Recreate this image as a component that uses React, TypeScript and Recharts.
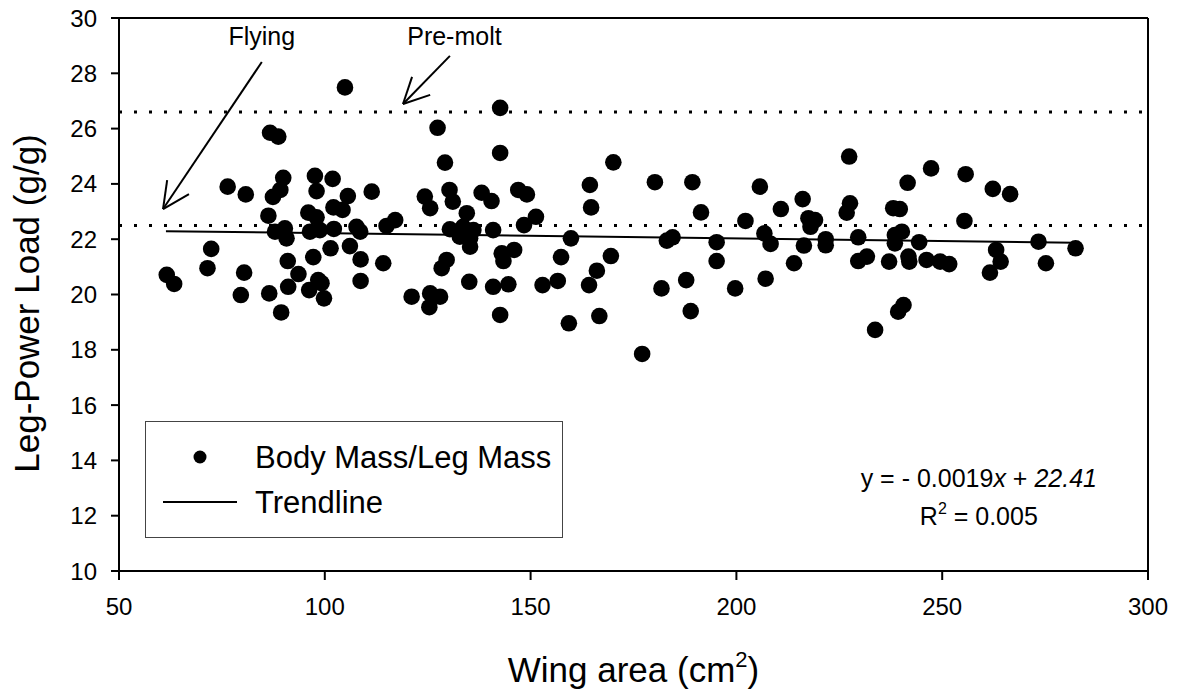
import React from "react";
import {
  ScatterChart,
  Scatter,
  XAxis,
  YAxis,
  ReferenceLine,
  ReferenceDot,
  Legend,
} from "recharts";

const FONT = "'Liberation Sans', Arial, Helvetica, sans-serif";

// wing area (cm2) and leg-power load (g/g), one entry per bird
const wingArea = [
  61.6, 63.4, 71.5, 72.4, 76.4, 79.6, 80.4, 80.8,
  86.3, 86.5, 86.7, 88.7, 87.4, 89.2, 89.9, 87.9, 90.3, 90.7, 89.4, 91.0, 91.1, 93.6,
  96.0, 96.2, 96.4, 97.2, 97.6, 98.0, 98.0, 98.4, 98.8, 99.2, 99.8,
  101.4, 101.9, 102.1, 102.2, 104.3, 104.9, 105.6, 106.1, 107.7, 108.6, 108.7, 108.7, 111.4, 114.2, 115.0, 117.1,
  121.1, 124.3, 125.6, 125.6, 125.4, 127.4, 128.0, 128.4, 129.2, 129.6, 130.3, 130.4, 131.1, 132.8, 133.6, 134.5, 134.5, 135.3, 136.1, 135.1, 135.3,
  138.1, 140.5, 140.9, 140.9, 142.6, 142.6, 142.6, 143.0, 143.4, 144.6, 146.0, 147.0, 148.4, 149.1, 151.3, 152.9, 156.6, 157.4, 159.3, 159.8,
  164.2, 164.4, 164.7, 166.1, 166.7, 169.5, 170.1, 177.1, 180.2, 181.8, 183.1, 184.5, 187.8, 188.9, 189.3, 191.4, 195.2, 195.2, 199.7,
  202.2, 205.7, 206.8, 207.1, 208.3, 210.8, 214.0, 216.1, 216.4, 217.5, 218.0, 219.1, 221.7, 221.7, 226.8, 227.4, 227.6, 229.6, 229.6, 231.7, 233.7,
  237.1, 238.1, 239.7, 238.5, 240.2, 238.5, 239.3, 240.6, 241.6, 241.8, 242.0, 244.4, 246.2, 247.3, 249.5, 251.7, 255.4, 255.7,
  261.6, 262.3, 263.1, 264.2, 266.5, 273.4, 275.2, 282.4,
];
const legPowerLoad = [
  20.71, 20.38, 20.95, 21.65, 23.9, 19.98, 20.79, 23.62,
  22.85, 20.04, 25.85, 25.71, 23.53, 23.78, 24.22, 22.27, 22.39, 22.03, 19.35, 21.21, 20.28, 20.74,
  22.96, 20.16, 22.27, 21.35, 24.29, 23.74, 22.79, 20.52, 22.33, 20.41, 19.86,
  21.67, 24.18, 23.15, 22.37, 23.06, 27.49, 23.56, 21.75, 22.45, 22.27, 21.27, 20.49, 23.72, 21.13, 22.48, 22.69,
  19.92, 23.54, 23.12, 20.04, 19.54, 26.03, 19.92, 20.95, 24.77, 21.25, 23.78, 22.36, 23.36, 22.09, 22.45, 22.94, 22.21, 21.73, 22.33, 20.46, 22.03,
  23.68, 23.38, 22.33, 20.28, 26.75, 25.12, 19.26, 21.49, 21.21, 20.37, 21.61, 23.78, 22.51, 23.62, 22.81, 20.34, 20.49, 21.35, 18.96, 22.03,
  20.34, 23.96, 23.15, 20.86, 19.22, 21.39, 24.78, 17.85, 24.06, 20.22, 21.95, 22.07, 20.52, 19.4, 24.06, 22.97, 21.89, 21.21, 20.22,
  22.66, 23.9, 22.21, 20.57, 21.83, 23.09, 21.13, 23.45, 21.77, 22.76, 22.45, 22.69, 22.0, 21.78, 22.96, 24.99, 23.3, 22.07, 21.21, 21.37, 18.72,
  21.19, 23.12, 23.09, 22.15, 22.27, 21.85, 19.38, 19.62, 24.04, 21.37, 21.19, 21.89, 21.25, 24.56, 21.19, 21.1, 22.66, 24.35,
  20.79, 23.82, 21.61, 21.19, 23.63, 21.91, 21.13, 21.67,
];

// trendline end points
const trendWing = [61.4, 282.4];
const trendLoad = [22.29, 21.87];

const xTicks = [50, 100, 150, 200, 250, 300];
const yTicks = [10, 12, 14, 16, 18, 20, 22, 24, 26, 28, 30];
const cutoffLines = [26.6, 22.5];

const points = wingArea.map((x, i) => ({ x, y: legPowerLoad[i] }));
const trend = trendWing.map((x, i) => ({ x, y: trendLoad[i] }));

// annotation arrows: [x1, y1, x2, y2] in data units
const arrows = [
  [84.7, 28.41, 60.7, 23.09],
  [61.7, 24.14, 60.7, 23.09],
  [67.0, 23.63, 60.7, 23.09],
  [130.4, 28.63, 119.0, 26.89],
  [121.2, 27.87, 119.0, 26.89],
  [125.6, 27.22, 119.0, 26.89],
];

const Dot = (props: any) => (
  <circle cx={props.cx} cy={props.cy} r={8.3} fill="#000" />
);

const textAt = (render: (x: number, y: number) => React.ReactNode) => (props: any) => {
  const vb = props.viewBox || {};
  return render(vb.x + (vb.width || 0) / 2, vb.y + (vb.height || 0) / 2);
};

const renderLegend = () => (
  <div
    style={{
      width: 418,
      height: 117,
      border: "1px solid #444",
      boxSizing: "border-box",
      background: "#fff",
    }}
  >
    <svg width={416} height={115}>
      <circle cx={54} cy={35} r={6.5} fill="#000" />
      <text x={109} y={46} fontSize={31} fontFamily={FONT} fill="#000">
        Body Mass/Leg Mass
      </text>
      <line x1={17} x2={91} y1={80} y2={80} stroke="#000" strokeWidth={2} />
      <text x={109} y={91} fontSize={31} fontFamily={FONT} fill="#000">
        Trendline
      </text>
    </svg>
  </div>
);

export default function App() {
  return (
    <div style={{ position: "absolute", left: 0, top: 0, background: "#fff" }}>
      <ScatterChart
        width={1179}
        height={692}
        margin={{ top: 18, right: 31, bottom: 0, left: 0 }}
      >
        <XAxis
          type="number"
          dataKey="x"
          domain={[50, 300]}
          ticks={xTicks}
          allowDataOverflow
          height={121}
          tickSize={9}
          tickMargin={18}
          axisLine={{ stroke: "#000", strokeWidth: 2 }}
          tickLine={{ stroke: "#000", strokeWidth: 2 }}
          tick={{ fill: "#000", fontSize: 24, fontFamily: FONT }}
          label={{
            content: (p: any) => {
              const vb = p.viewBox;
              const cx = vb.x + vb.width / 2;
              return (
                <text x={cx} y={682} textAnchor="middle" fontSize={35} fontFamily={FONT} fill="#000">
                  Wing area (cm<tspan fontSize={22} dy={-15}>2</tspan>
                  <tspan dy={15}>)</tspan>
                </text>
              );
            },
          }}
        />
        <YAxis
          type="number"
          dataKey="y"
          domain={[10, 30]}
          ticks={yTicks}
          allowDataOverflow
          width={119}
          tickSize={8}
          tickMargin={14}
          axisLine={{ stroke: "#000", strokeWidth: 2 }}
          tickLine={{ stroke: "#000", strokeWidth: 2 }}
          tick={{ fill: "#000", fontSize: 24, fontFamily: FONT }}
          label={{
            content: (p: any) => {
              const vb = p.viewBox;
              const cy = vb.y + vb.height / 2 + 9;
              return (
                <text
                  x={39}
                  y={cy}
                  transform={`rotate(-90, 39, ${cy})`}
                  textAnchor="middle"
                  fontSize={35}
                  fontFamily={FONT}
                  fill="#000"
                >
                  Leg-Power Load (g/g)
                </text>
              );
            },
          }}
        />
        <ReferenceLine x={300} stroke="#000" strokeWidth={2} />
        <ReferenceLine y={30} stroke="#000" strokeWidth={2} />
        {cutoffLines.map((v) => (
          <ReferenceLine key={v} y={v} stroke="#000" strokeWidth={3} strokeDasharray="3 12" />
        ))}
        {arrows.map((a, i) => (
          <ReferenceLine
            key={i}
            segment={[
              { x: a[0], y: a[1] },
              { x: a[2], y: a[3] },
            ]}
            stroke="#000"
            strokeWidth={2}
          />
        ))}
        <ReferenceDot
          x={84.7}
          y={29.02}
          r={0}
          label={{
            content: textAt((x, y) => (
              <text x={x} y={y} textAnchor="middle" fontSize={25} fontFamily={FONT} fill="#000">
                Flying
              </text>
            )),
          }}
        />
        <ReferenceDot
          x={131.5}
          y={29.02}
          r={0}
          label={{
            content: textAt((x, y) => (
              <text x={x} y={y} textAnchor="middle" fontSize={25} fontFamily={FONT} fill="#000">
                Pre-molt
              </text>
            )),
          }}
        />
        <ReferenceDot
          x={258.9}
          y={13.04}
          r={0}
          label={{
            content: textAt((x, y) => (
              <text x={x} y={y} textAnchor="middle" fontSize={25} fontFamily={FONT} fill="#000">
                y = - 0.0019<tspan fontStyle="italic">x</tspan> + <tspan fontStyle="italic">22.41</tspan>
              </text>
            )),
          }}
        />
        <ReferenceDot
          x={258.9}
          y={11.66}
          r={0}
          label={{
            content: textAt((x, y) => (
              <text x={x} y={y} textAnchor="middle" fontSize={25} fontFamily={FONT} fill="#000">
                R<tspan fontSize={16} dy={-11}>2</tspan>
                <tspan dy={11}> = 0.005</tspan>
              </text>
            )),
          }}
        />
        <Scatter
          name="Body Mass/Leg Mass"
          data={points}
          shape={Dot}
          isAnimationActive={false}
        />
        <Scatter
          name="Trendline"
          data={trend}
          line={{ stroke: "#000", strokeWidth: 2 }}
          shape={() => <g />}
          isAnimationActive={false}
        />
        <Legend
          layout="vertical"
          align="center"
          verticalAlign="middle"
          wrapperStyle={{ position: "absolute", left: 145, top: 421, width: 418, height: 117 }}
          content={renderLegend}
        />
      </ScatterChart>
    </div>
  );
}
